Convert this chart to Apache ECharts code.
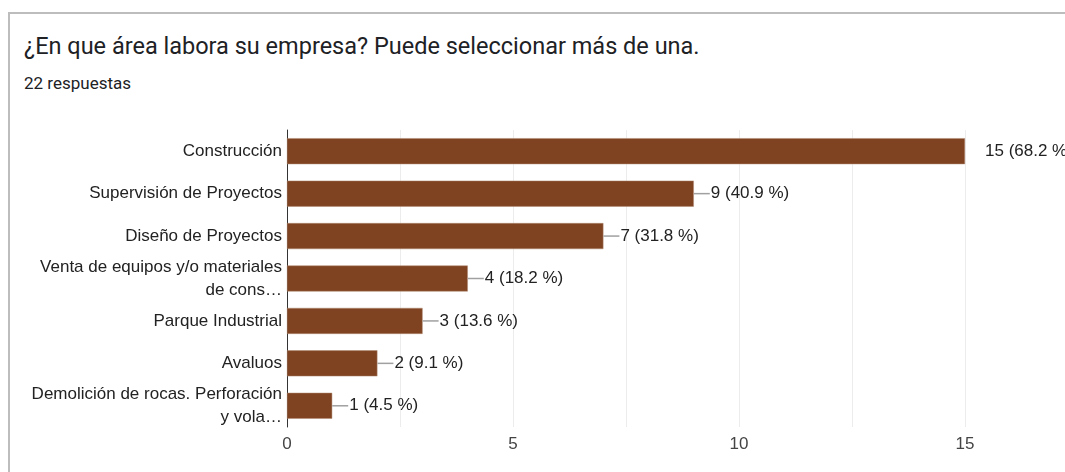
<!DOCTYPE html>
<html>
<head>
<meta charset="utf-8">
<script src="https://cdn.jsdelivr.net/npm/echarts@6/dist/echarts.min.js"></script>
<style>
  html, body { margin: 0; padding: 0; background: #fff; }
  #card {
    position: absolute; left: 8px; top: 12px; width: 1070px; height: 470px;
    border-left: 2px solid #bdbdbd; border-top: 2px solid #bdbdbd;
    box-sizing: border-box;
  }
  .title {
    position: absolute; left: 24px; top: 32px;
    font-family: Roboto, "Noto Sans", sans-serif; font-size: 23.5px; color: #202124;
  }
  .sub {
    position: absolute; left: 24px; top: 73px;
    font-family: Roboto, "Noto Sans", sans-serif; font-size: 17px; color: #202124;
  }
  #chart { position: absolute; left: 0; top: 0; width: 1065px; height: 472px; }
</style>
</head>
<body>
<div id="card"></div>
<div class="title">¿En que área labora su empresa? Puede seleccionar más de una.</div>
<div class="sub">22 respuestas</div>
<div id="chart"></div>
<script>
// datos
const categories = [
  'Construcción',
  'Supervisión de Proyectos',
  'Diseño de Proyectos',
  'Venta de equipos y/o materiales\nde cons…',
  'Parque Industrial',
  'Avaluos',
  'Demolición de rocas. Perforación\ny vola…'
]
const counts = [15, 9, 7, 4, 3, 2, 1]
const percents = ['68.2', '40.9', '31.8', '18.2', '13.6', '9.1', '4.5']
const xTicks = [0, 5, 10, 15]

const chart = echarts.init(document.getElementById('chart'))
const maxCount = Math.max(...counts)
const font = 'Liberation Sans, Arial, sans-serif'

const option = {
  animation: false,
  grid: { left: 287, right: 100, top: 130, bottom: 45, containLabel: false },
  xAxis: {
    type: 'value',
    min: 0,
    max: 15,
    interval: 2.5,
    axisLine: { show: false },
    axisTick: { show: false },
    splitLine: { show: true, lineStyle: { color: '#ececec', width: 1 } },
    axisLabel: {
      fontFamily: font,
      fontSize: 17,
      color: '#444',
      margin: 9,
      formatter: v => (xTicks.indexOf(v) >= 0 ? String(v) : '')
    }
  },
  yAxis: {
    type: 'category',
    inverse: true,
    data: categories,
    axisLine: { show: true, lineStyle: { color: '#333', width: 1 } },
    axisTick: { show: false },
    axisLabel: {
      fontFamily: font,
      fontSize: 17,
      color: '#222',
      margin: 5,
      lineHeight: 23,
      padding: [6, 0, 0, 0],
      align: 'right'
    }
  },
  series: [{
    type: 'bar',
    data: counts,
    barWidth: 26,
    itemStyle: { color: '#7f4321', borderColor: '#b08a72', borderWidth: 0.5 },
    label: {
      show: true,
      position: 'right',
      distance: 0,
      fontFamily: font,
      fontSize: 17,
      color: '#222',
      formatter: p => {
        const txt = p.value + ' (' + percents[p.dataIndex] + ' %)'
        if (p.value === maxCount) return '{gap|}{txt|' + txt + '}'
        return '{ln|}{txt|' + txt + '}'
      },
      rich: {
        ln: { width: 16, height: 1.5, backgroundColor: '#a0a0a0', verticalAlign: 'middle' },
        gap: { width: 19, height: 1 },
        txt: { fontFamily: font, fontSize: 17, color: '#222', padding: [0, 0, 0, 1] }
      }
    }
  }]
}
chart.setOption(option)
</script>
</body>
</html>
